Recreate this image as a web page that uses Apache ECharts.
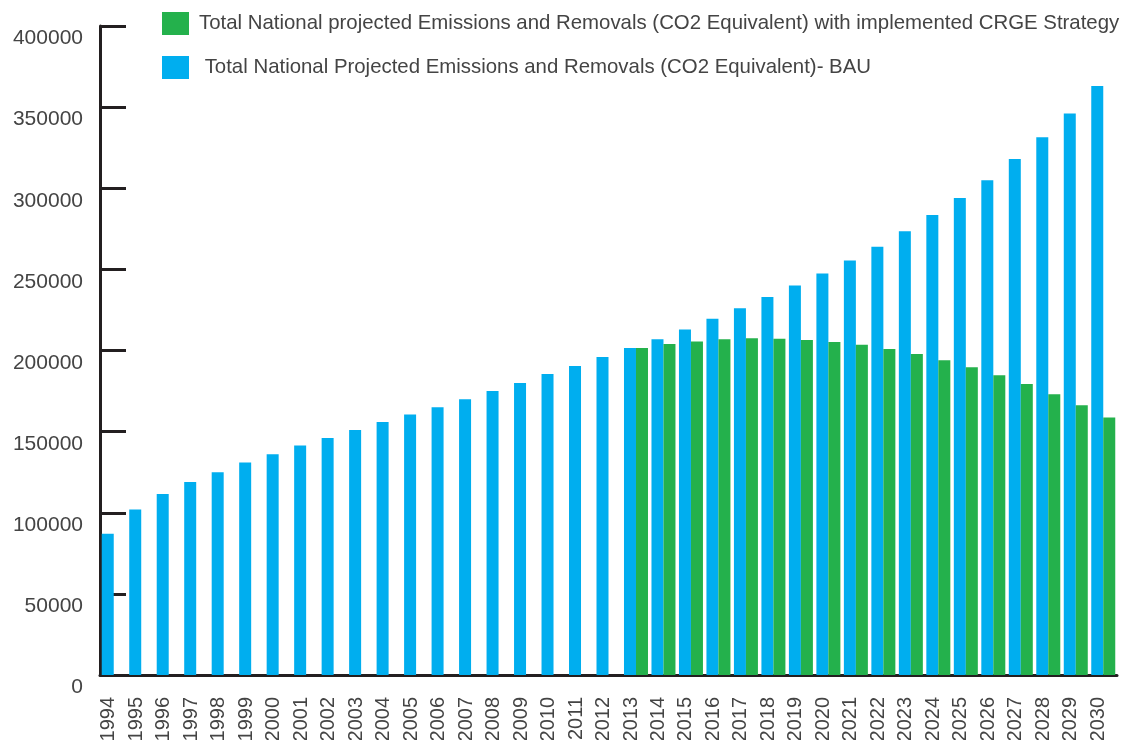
<!DOCTYPE html>
<html>
<head>
<meta charset="utf-8">
<title>CO2 emissions projection</title>
<script src="https://cdn.jsdelivr.net/npm/echarts@6/dist/echarts.min.js"></script>
<style>
  html, body { margin: 0; padding: 0; background: #fff; }
  #main { width: 1126px; height: 740px; }
</style>
</head>
<body>
<div id="main"></div>
<script>
// years on the x axis
var years = ['1994','1995','1996','1997','1998','1999','2000','2001','2002','2003',
  '2004','2005','2006','2007','2008','2009','2010','2011','2012','2013',
  '2014','2015','2016','2017','2018','2019','2020','2021','2022','2023',
  '2024','2025','2026','2027','2028','2029','2030'];

// BAU projection
var bau = [87000, 102000, 111500, 119000, 125000, 131000, 136000, 141500, 146000, 151000,
  156000, 160500, 165000, 170000, 175000, 180000, 185500, 190500, 196000, 201500,
  207000, 213000, 219500, 226000, 233000, 240000, 247500, 255500, 264000, 273500,
  283500, 294000, 305000, 318000, 331500, 346000, 363000];

// with CRGE strategy (starts 2013)
var crge = [null, null, null, null, null, null, null, null, null, null,
  null, null, null, null, null, null, null, null, null, 201500,
  204000, 205500, 207000, 207500, 207200, 206500, 205300, 203500, 201000, 197800,
  194000, 189700, 184800, 179300, 173000, 166300, 158700];

var yMax = 400000;
var yStep = 50000;

var nameCrge = 'Total National projected Emissions and Removals (CO2 Equivalent) with implemented CRGE Strategy';
var nameBau = ' Total National Projected Emissions and Removals (CO2 Equivalent)- BAU';

var blue = '#00aeef';
var green = '#24b14c';
var ink = '#231f20';
var textCol = '#444444';
var font = 'Liberation Sans';

var myChart = echarts.init(document.getElementById('main'));
myChart.setOption({
    animation: false,
    textStyle: { fontFamily: font },
    legend: {
        orient: 'vertical',
        left: 162,
        top: 12,
        padding: 0,
        itemWidth: 27,
        itemHeight: 23,
        itemGap: 21,
        icon: 'rect',
        data: [nameCrge, nameBau],
        textStyle: { fontSize: 20.4, color: textCol, fontFamily: font, padding: [0, 0, 0, 5] }
    },
    grid: { left: 100, right: 9, top: 26, bottom: 65, containLabel: false, outerBoundsMode: 'none' },
    xAxis: {
        type: 'category',
        data: years,
        axisLine: { lineStyle: { color: ink, width: 3 } },
        axisTick: { inside: true, length: 16, lineStyle: { color: ink, width: 3 } },
        axisLabel: {
            rotate: 90,
            interval: 0,
            margin: 22,
            fontSize: 20,
            color: textCol,
            fontFamily: font,
            // labels sit under the blue bar, not the category centre
            verticalAlign: 'bottom',
            lineHeight: 10
        },
        splitLine: { show: false }
    },
    yAxis: {
        type: 'value',
        min: 0,
        max: yMax,
        interval: yStep,
        axisLine: { show: true, lineStyle: { color: ink, width: 3 } },
        axisTick: { show: true, inside: true, length: 26, lineStyle: { color: ink, width: 3 } },
        axisLabel: {
            margin: 17,
            fontSize: 21,
            color: textCol,
            fontFamily: font,
            verticalAlign: 'top',
            padding: [2, 0, 0, 0],
            formatter: function (v) { return String(v); }
        },
        splitLine: { show: false }
    },
    series: [
        {
            name: nameBau,
            type: 'bar',
            data: bau,
            barWidth: 12,
            barGap: '0%',
            itemStyle: { color: blue }
        },
        {
            name: nameCrge,
            type: 'bar',
            data: crge,
            barWidth: 12,
            barGap: '0%',
            itemStyle: { color: green }
        }
    ]
});
</script>
</body>
</html>
